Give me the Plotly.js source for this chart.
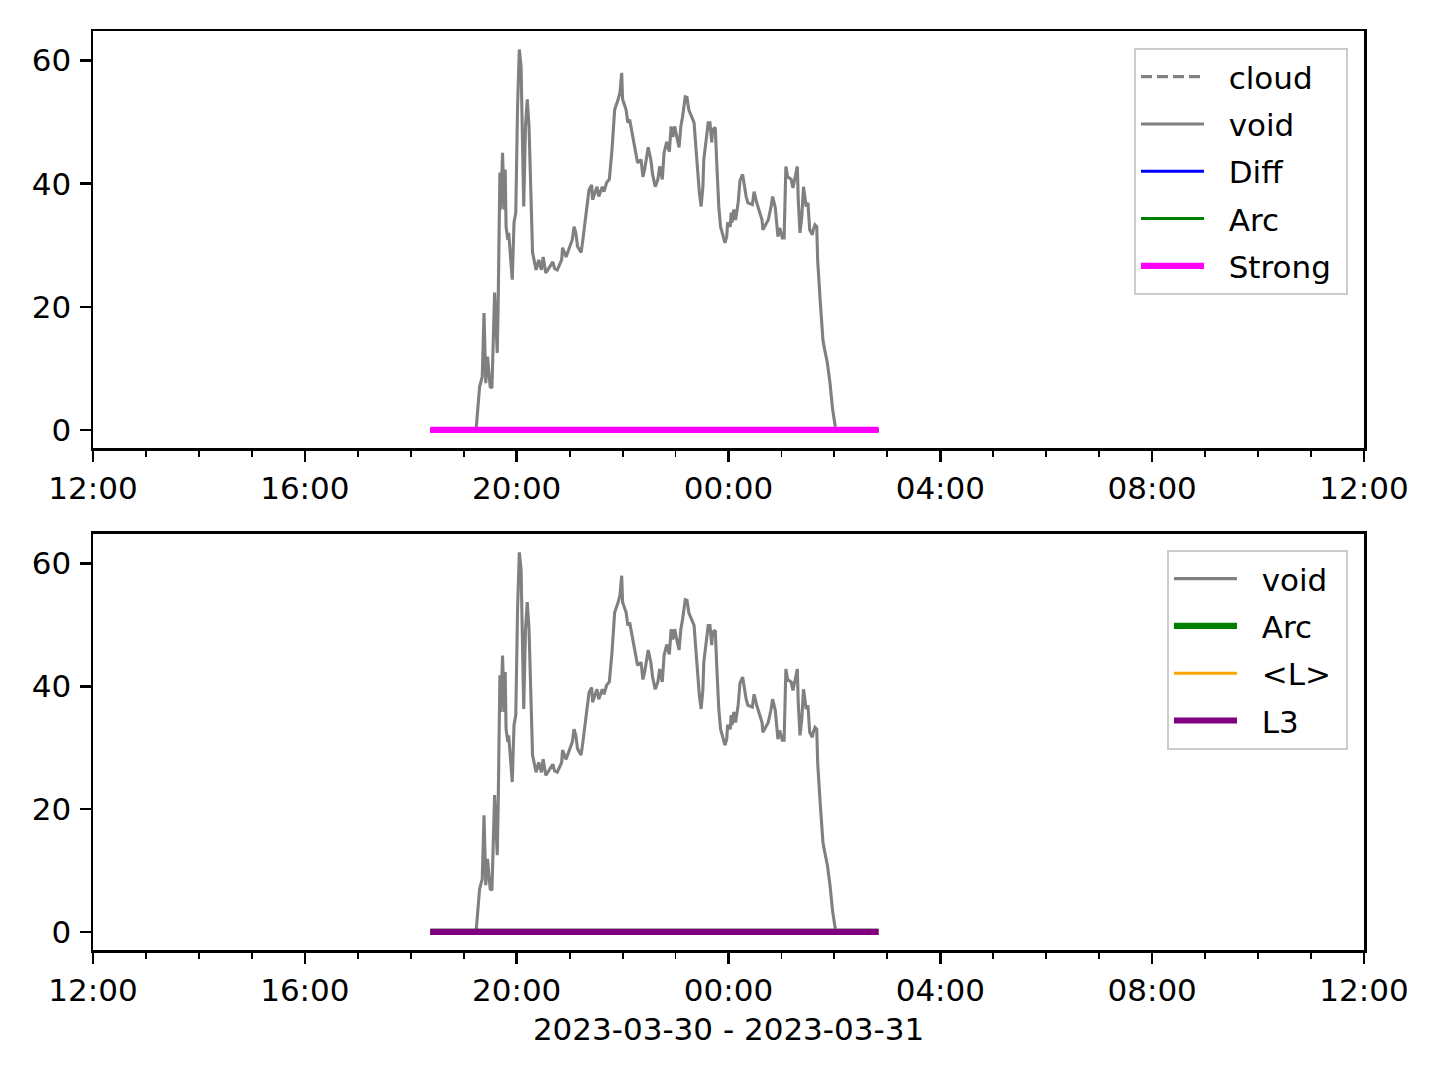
<!DOCTYPE html>
<html><head><meta charset="utf-8">
<script src="https://cdn.plot.ly/plotly-3.0.1.min.js"></script>
<style>html,body{margin:0;padding:0;background:#fff}#chart{width:1440px;height:1080px}</style>
</head><body><div id="chart"></div>
<script>
// ---- data ----
const voidTimes = [
'2023-03-30 19:14','2023-03-30 19:18','2023-03-30 19:21','2023-03-30 19:23','2023-03-30 19:25','2023-03-30 19:27',
'2023-03-30 19:30','2023-03-30 19:32','2023-03-30 19:35','2023-03-30 19:38','2023-03-30 19:39','2023-03-30 19:41',
'2023-03-30 19:42','2023-03-30 19:44','2023-03-30 19:46','2023-03-30 19:47','2023-03-30 19:48','2023-03-30 19:50',
'2023-03-30 19:51','2023-03-30 19:55','2023-03-30 19:57','2023-03-30 19:59','2023-03-30 20:01','2023-03-30 20:03',
'2023-03-30 20:05','2023-03-30 20:06','2023-03-30 20:08','2023-03-30 20:10','2023-03-30 20:12','2023-03-30 20:14',
'2023-03-30 20:17','2023-03-30 20:18','2023-03-30 20:22','2023-03-30 20:25','2023-03-30 20:28','2023-03-30 20:30',
'2023-03-30 20:33','2023-03-30 20:38','2023-03-30 20:41','2023-03-30 20:43','2023-03-30 20:46','2023-03-30 20:51',
'2023-03-30 20:52','2023-03-30 20:56','2023-03-30 20:59','2023-03-30 21:03','2023-03-30 21:05','2023-03-30 21:07',
'2023-03-30 21:09','2023-03-30 21:13','2023-03-30 21:15','2023-03-30 21:20','2023-03-30 21:22','2023-03-30 21:25',
'2023-03-30 21:26','2023-03-30 21:31','2023-03-30 21:33','2023-03-30 21:37','2023-03-30 21:39','2023-03-30 21:42',
'2023-03-30 21:45','2023-03-30 21:48','2023-03-30 21:51','2023-03-30 21:55','2023-03-30 21:57','2023-03-30 21:59',
'2023-03-30 22:00','2023-03-30 22:04','2023-03-30 22:06','2023-03-30 22:08','2023-03-30 22:12','2023-03-30 22:15',
'2023-03-30 22:17','2023-03-30 22:21','2023-03-30 22:23','2023-03-30 22:25','2023-03-30 22:29','2023-03-30 22:32',
'2023-03-30 22:34','2023-03-30 22:37','2023-03-30 22:40','2023-03-30 22:42','2023-03-30 22:45','2023-03-30 22:47',
'2023-03-30 22:50','2023-03-30 22:53','2023-03-30 22:55','2023-03-30 22:57','2023-03-30 22:59','2023-03-30 23:02',
'2023-03-30 23:04','2023-03-30 23:06','2023-03-30 23:08','2023-03-30 23:11','2023-03-30 23:13','2023-03-30 23:15',
'2023-03-30 23:19','2023-03-30 23:21','2023-03-30 23:23','2023-03-30 23:25','2023-03-30 23:27','2023-03-30 23:29',
'2023-03-30 23:31','2023-03-30 23:32','2023-03-30 23:34','2023-03-30 23:37','2023-03-30 23:39','2023-03-30 23:41',
'2023-03-30 23:42','2023-03-30 23:45','2023-03-30 23:47','2023-03-30 23:49','2023-03-30 23:51','2023-03-30 23:54',
'2023-03-30 23:56','2023-03-30 23:58','2023-03-30 23:59',
'2023-03-31 00:02','2023-03-31 00:03','2023-03-31 00:04','2023-03-31 00:06','2023-03-31 00:08','2023-03-31 00:11',
'2023-03-31 00:13','2023-03-31 00:16','2023-03-31 00:20','2023-03-31 00:22','2023-03-31 00:27','2023-03-31 00:29',
'2023-03-31 00:32','2023-03-31 00:34','2023-03-31 00:38','2023-03-31 00:39','2023-03-31 00:42','2023-03-31 00:45',
'2023-03-31 00:48','2023-03-31 00:50','2023-03-31 00:53','2023-03-31 00:55','2023-03-31 00:56','2023-03-31 00:58',
'2023-03-31 01:01','2023-03-31 01:03','2023-03-31 01:05','2023-03-31 01:07','2023-03-31 01:11','2023-03-31 01:13',
'2023-03-31 01:15','2023-03-31 01:18','2023-03-31 01:19','2023-03-31 01:21','2023-03-31 01:23','2023-03-31 01:25',
'2023-03-31 01:28','2023-03-31 01:30','2023-03-31 01:32','2023-03-31 01:35','2023-03-31 01:36','2023-03-31 01:38',
'2023-03-31 01:40','2023-03-31 01:41','2023-03-31 01:44','2023-03-31 01:46','2023-03-31 01:47','2023-03-31 01:49',
'2023-03-31 01:52','2023-03-31 01:55','2023-03-31 01:58','2023-03-31 02:01'
];
const voidValues = [
0,7,8.6,19,7.6,11.9,
7,6.8,22.3,12.5,20,41.8,
35.8,45,35.8,42.3,33,30.9,
32,24.4,33.7,35.3,52.5,61.8,
59,52.5,36.3,49.3,53.7,49.3,
36.3,28.8,26,27.6,26,28.1,
25.5,26.5,27.3,26.2,26,27.6,
29.6,28.1,29.3,30.9,33,32,
29.8,28.8,30.9,37.4,39,39.8,
37.4,39.5,37.9,39.5,38.7,40.2,
40.7,45.5,52,53.7,54.8,58,
53.7,52,49.9,50.4,47.2,45,
43.4,43.9,41.1,42.3,45.9,43.9,
41.5,39.5,40.7,42.8,40.7,45,
46.8,45.2,49.3,47.6,49.3,47.2,
45.9,49.3,50.9,54.1,54,52,
50.4,49.9,46,41.8,38.5,36.3,
39.5,43.9,46.7,49.9,49.9,46.7,
48.8,49.1,42.3,36.3,33,31.4,
30.4,31.4,33.7,
33,35.3,33.7,35.8,34.1,37,
40.5,41.5,37.9,36.9,36.6,38.7,
36.9,35.8,34.1,32.5,33.3,34.1,
36.1,37.9,36.1,33,31.4,32.8,
31.2,31.2,42.8,41.1,40.7,39.3,
40.7,42.8,37.4,32,34.6,39.5,
36.3,36.9,32.5,31.7,32.5,33.3,
33,27.6,20.7,17.4,14.6,13,
10.9,7.6,3.3,0.5
];
// flat (zero-valued) flag series spanning the event window
const flagTimes = ['2023-03-30 18:22','2023-03-31 02:50'];
const cloudValues = [0,0];
const diffValues = [0,0];
const arcValues = [0,0];
const strongValues = [0,0];
const meanLValues = [0,0];
const l3Values = [0,0];
const xStart = '2023-03-30 12:00';
const xEnd = '2023-03-31 12:00';
const yTickVals = [0,20,40,60];
const xTitle = '2023-03-30 - 2023-03-31';

// ---- traces ----
const PADL = '\u00a0\u00a0', PADR = '\u00a0';
function tr(x, y, name, color, width, dash, xa, ya, leg, grp){
  return {x:x, y:y, name:PADL + name + PADR, type:'scatter', mode:'lines', xaxis:xa, yaxis:ya,
    line:{color:color, width:width, dash:dash||'solid'}, legend:leg, legendgroup:grp,
    connectgaps:false, hoverinfo:'skip'};
}
const THIN = 3.1, THICK = 6.2;
const data = [
  tr(flagTimes, cloudValues, 'cloud', '#808080', THIN, '11px,5px', 'x', 'y', 'legend', 'a1'),
  tr(voidTimes, voidValues, 'void', '#808080', THIN, 'solid', 'x', 'y', 'legend', 'a2'),
  tr(flagTimes, diffValues, 'Diff', '#0000ff', THIN, 'solid', 'x', 'y', 'legend', 'a3'),
  tr(flagTimes, arcValues, 'Arc', '#008000', THIN, 'solid', 'x', 'y', 'legend', 'a4'),
  tr(flagTimes, strongValues, 'Strong', '#ff00ff', THICK, 'solid', 'x', 'y', 'legend', 'a5'),
  tr(voidTimes, voidValues, 'void', '#808080', THIN, 'solid', 'x2', 'y2', 'legend2', 'b1'),
  tr(flagTimes, arcValues, 'Arc', '#008000', THICK, 'solid', 'x2', 'y2', 'legend2', 'b2'),
  tr(flagTimes, meanLValues, '&lt;L&gt;', '#ffa500', THIN, 'solid', 'x2', 'y2', 'legend2', 'b3'),
  tr(flagTimes, l3Values, 'L3', '#800080', THICK, 'solid', 'x2', 'y2', 'legend2', 'b4')
];

const FS = 31;
const font = {family:'DejaVu Sans, sans-serif', size:FS, color:'#000'};
function xax(anchor, title){
  const a = {anchor:anchor, domain:[0,1], type:'date', range:[xStart, xEnd],
    tick0:'2023-03-30 00:00', dtick:4*3600000, tickformat:'%H:%M',
    ticks:'outside', ticklen:11, tickwidth:2.5, tickcolor:'#000',
    showline:true, linecolor:'#000', linewidth:2.5, mirror:true,
    showgrid:false, zeroline:false, tickfont:font,
    minor:{dtick:3600000, tick0:'2023-03-30 00:00', ticks:'outside', ticklen:6.2, tickwidth:1.9, tickcolor:'#000', showgrid:false}};
  if (title) a.title = {text:title, font:font, standoff:12};
  return a;
}
function yax(anchor, dom){
  return {anchor:anchor, domain:dom, range:[-2.95, 64.8], tickvals:yTickVals,
    ticks:'outside', ticklen:11, tickwidth:2.5, tickcolor:'#000', ticklabelstandoff:2,
    showline:true, linecolor:'#000', linewidth:2.5, mirror:true,
    showgrid:false, zeroline:false, tickfont:font};
}
function leg(x, y){
  return {x:x, y:y, xanchor:'right', yanchor:'top', xref:'paper', yref:'paper',
    bgcolor:'rgba(255,255,255,0.8)', bordercolor:'#cccccc', borderwidth:2,
    font:font, itemwidth:63, tracegroupgap:4, traceorder:'grouped'};
}
const layout = {
  width:1440, height:1080, paper_bgcolor:'#fff', plot_bgcolor:'#fff',
  margin:{l:93, r:76, t:31, b:130, pad:0},
  font:font, showlegend:true,
  xaxis: xax('y', null),
  yaxis: yax('x', [0.5462, 1]),
  xaxis2: xax('y2', xTitle),
  yaxis2: yax('x2', [0, 0.4527]),
  legend: leg(0.9874, 0.9815),
  legend2: leg(0.9874, 0.4353)
};
Plotly.newPlot('chart', data, layout, {displayModeBar:false, staticPlot:true});
</script></body></html>
